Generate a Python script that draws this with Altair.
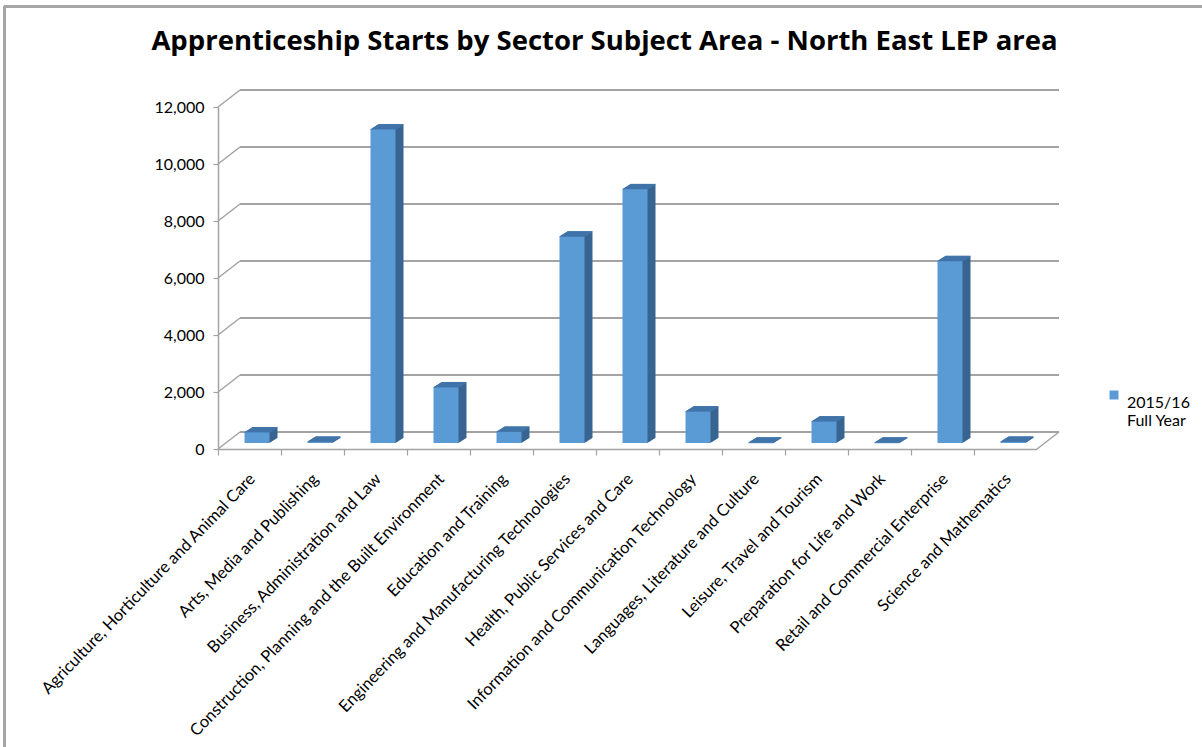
import altair as alt
import pandas as pd

categories = [
    "Agriculture, Horticulture and Animal Care",
    "Arts, Media and Publishing",
    "Business, Administration  and Law",
    "Construction, Planning and the Built Environment",
    "Education and Training",
    "Engineering and Manufacturing Technologies",
    "Health, Public Services and Care",
    "Information and Communication  Technology",
    "Languages, Literature and Culture",
    "Leisure, Travel and Tourism",
    "Preparation for Life and Work",
    "Retail and Commercial Enterprise",
    "Science and Mathematics",
]
values = [370, 40, 11000, 1950, 390, 7240, 8900, 1100, 10, 750, 10, 6380, 40]
series_name = "2015/16|Full Year"
y_ticks = [0, 2000, 4000, 6000, 8000, 10000, 12000]

W, H = 819, 342
LEFT, TOP = 218, 107
DX, DY = 22, -17          # back-wall depth offset (px)
BW = 25                   # bar width
BX, BY = 7.5, -6          # bar front-face offset in depth
FONT = "Lato"
GRID = "#a3a3a3"

df = pd.DataFrame({"cat": categories, "val": values, "series": series_name})
grid_df = pd.DataFrame({"tick": y_ticks})

xs = alt.Scale(domain=categories, paddingInner=0, paddingOuter=0)
ys = alt.Scale(domain=[0, 12000], nice=False)

x_axis = alt.Axis(title=None, labelAngle=-46, labelAlign="right",
                  labelBaseline="middle", bandPosition=0,
                  labelOffset=3, labelPadding=21,
                  domainColor=GRID, domainWidth=1.5, tickColor=GRID,
                  tickWidth=1.2, tickSize=6, labelFont=FONT,
                  labelFontSize=16.5, labelColor="black", labelLimit=0)
y_axis = alt.Axis(title=None, values=y_ticks, grid=False,
                  labelExpr="format(datum.value, ',')",
                  domainColor=GRID, domainWidth=1.5, tickColor=GRID,
                  tickWidth=1.2, tickSize=5, labelFont=FONT,
                  labelFontSize=16, labelColor="black", labelPadding=9)


def X():
    return alt.X("cat:N", scale=xs, sort=None, axis=x_axis)


def Y(field):
    return alt.Y(field, scale=ys, axis=y_axis)


# back wall gridlines
grid = alt.Chart(grid_df).mark_rule(color=GRID, strokeWidth=1.8, yOffset=DY).encode(
    y=Y("tick:Q"), x=alt.value(DX), x2=alt.value(W + DX))
# left wall diagonals
diag = alt.Chart(grid_df).mark_rule(color=GRID, strokeWidth=1.5, y2Offset=DY).encode(
    y=Y("tick:Q"), y2="tick:Q", x=alt.value(0), x2=alt.value(DX))
# right floor diagonal
floor_r = alt.Chart(grid_df).transform_filter("datum.tick == 0").mark_rule(
    color=GRID, strokeWidth=1.5, y2Offset=DY).encode(
    y=Y("tick:Q"), y2="tick:Q", x=alt.value(W), x2=alt.value(W + DX))

layers = [grid, diag, floor_r]

steps = 16
dep_x, dep_y = 8, -5
for i in range(1, steps + 1):
    kx = dep_x * i / steps
    ky = dep_y * i / steps
    layers.append(alt.Chart(df).mark_bar(
        width=BW, color="#386492", xOffset=BX + kx, yOffset=BY + ky,
        y2Offset=BY + ky).encode(x=X(), y=Y("val:Q")))
for i in range(0, steps + 1):
    kx = dep_x * i / steps
    ky = dep_y * i / steps
    layers.append(alt.Chart(df).mark_tick(
        size=BW, thickness=1, orient="horizontal", color="#4275AA", opacity=1,
        xOffset=BX + kx, yOffset=BY + ky).encode(x=X(), y=Y("val:Q")))

front = alt.Chart(df).mark_bar(width=BW, xOffset=BX, yOffset=BY, y2Offset=BY).encode(
    x=X(), y=Y("val:Q"),
    color=alt.Color("series:N", scale=alt.Scale(range=["#5B9BD5"]),
                    legend=alt.Legend(title=None, orient="none", legendX=888,
                                      legendY=280, symbolType="square",
                                      symbolSize=81, symbolStrokeWidth=0,
                                      labelFont=FONT, labelFontSize=16,
                                      labelColor="black", labelBaseline="top",
                                      labelOffset=5,
                                      labelExpr="split(datum.label, '|')")))
layers.append(front)

# chart frame
frame_top = alt.Chart(grid_df).mark_rule(color="#a6a6a6", strokeWidth=2).encode(
    x=alt.value(4 - LEFT), x2=alt.value(1202 - LEFT + 5), y=alt.value(6.5 - TOP))
frame_left = alt.Chart(grid_df).mark_rule(color="#a6a6a6", strokeWidth=2).encode(
    x=alt.value(4.5 - LEFT), y=alt.value(6 - TOP), y2=alt.value(747 - TOP + 5))
layers += [frame_top, frame_left]

chart = alt.layer(*layers).properties(
    width=W, height=H,
    title=alt.TitleParams(
        "Apprenticeship Starts by Sector Subject Area - North East LEP area",
        font="Open Sans", fontSize=27.5, fontWeight="bold", color="black",
        anchor="middle", frame="group", dx=-23, offset=0, dy=50),
    autosize=alt.AutoSizeParams(type="none"),
    padding={"left": LEFT, "top": TOP, "right": 1202 - LEFT - W,
             "bottom": 747 - TOP - H},
    background="white",
).configure_view(stroke=None)

chart.save("out.html", embed_options={"renderer": "svg", "actions": False})
